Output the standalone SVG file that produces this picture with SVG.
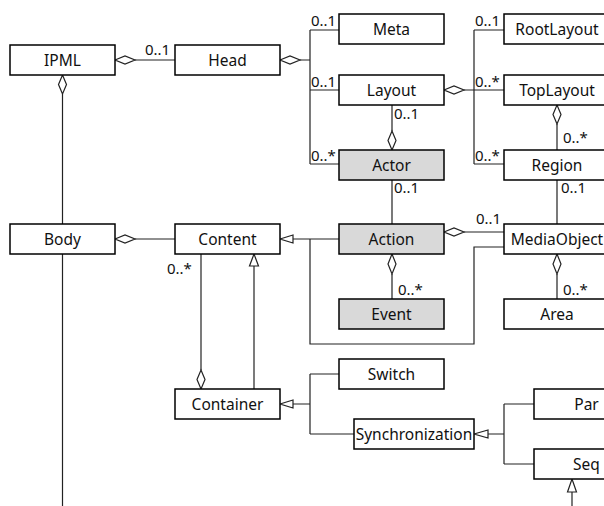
<svg xmlns="http://www.w3.org/2000/svg" width="604" height="506" viewBox="0 0 604 506">
<style>
.box{fill:#fff;stroke:#000;stroke-width:1.5}
.g{fill:#d9d9d9}
.t{font-family:"Noto Sans","DejaVu Sans",sans-serif;font-size:15.5px;text-anchor:middle;fill:#111}
.l{font-family:"Noto Sans","DejaVu Sans",sans-serif;font-size:15px;fill:#111}
.c{fill:none;stroke:#222;stroke-width:1.2}
.d{fill:#fff;stroke:#222;stroke-width:1.2}
</style>
<rect width="604" height="506" fill="#fff"/>
<g id="connectors">
<path class="c" d="M135 60H175"/>
<polygon class="d" points="115,60 125,56 135,60 125,64"/>
<path class="c" d="M300 60H310M310 30V164M310 30H339M310 90H339M310 164H339"/>
<polygon class="d" points="280,60 290,56 300,60 290,64"/>
<path class="c" d="M464 90H474M474 30V164M474 30H504M474 90H504M474 164H504"/>
<polygon class="d" points="444,90 454,86 464,90 454,94"/>
<path class="c" d="M392 105V131"/>
<polygon class="d" points="392,131 396,140.5 392,150 388,140.5"/>
<path class="c" d="M557 124V150"/>
<polygon class="d" points="557,105 561,114.5 557,124 553,114.5"/>
<path class="c" d="M392 180V224M557 180V224"/>
<path class="c" d="M464 232H504"/>
<polygon class="d" points="444,232 454,228 464,232 454,236"/>
<path class="c" d="M339 239H293M504 247H474V344H310V239"/>
<polygon class="d" points="280,239 293,235 293,243"/>
<path class="c" d="M135 239H175"/>
<polygon class="d" points="115,239 125,235 135,239 125,243"/>
<path class="c" d="M62.5 94V224M62.5 254V506"/>
<polygon class="d" points="62.5,75 66.5,84.5 62.5,94 58.5,84.5"/>
<path class="c" d="M392 274V299M557 274V299"/>
<polygon class="d" points="392,254 396,264 392,274 388,264"/>
<polygon class="d" points="557,254 561,264 557,274 553,264"/>
<path class="c" d="M201 254V370"/>
<polygon class="d" points="201,370 205,379.5 201,389 197,379.5"/>
<path class="c" d="M254 389V266"/>
<polygon class="d" points="254,254 258.5,266 249.5,266"/>
<path class="c" d="M293 404H310M310 374V434M310 374H339M310 434H354"/>
<polygon class="d" points="280,404 293,400 293,408"/>
<path class="c" d="M488 434H504M504 404V464M504 404H534M504 464H534"/>
<polygon class="d" points="474,434 488,430 488,438"/>
<path class="c" d="M572 492V506"/>
<polygon class="d" points="572,479 576.5,492 567.5,492"/>
</g>
<g id="labels">
<text class="l" x="145" y="55">0..1</text>
<text class="l" x="311" y="26">0..1</text>
<text class="l" x="311" y="87">0..1</text>
<text class="l" x="311" y="161">0..*</text>
<text class="l" x="475" y="26">0..1</text>
<text class="l" x="475" y="87">0..*</text>
<text class="l" x="475" y="161">0..*</text>
<text class="l" x="394" y="119">0..1</text>
<text class="l" x="563" y="143">0..*</text>
<text class="l" x="394" y="193">0..1</text>
<text class="l" x="561" y="193">0..1</text>
<text class="l" x="476" y="224">0..1</text>
<text class="l" x="398" y="295">0..*</text>
<text class="l" x="563" y="295">0..*</text>
<text class="l" x="167" y="274">0..*</text>
</g>
<g id="IPML"><rect class="box" x="10" y="45" width="105" height="30"/><text class="t" x="62.5" y="66">IPML</text></g>
<g id="Head"><rect class="box" x="175" y="45" width="105" height="30"/><text class="t" x="227.5" y="66">Head</text></g>
<g id="Meta"><rect class="box" x="339" y="14" width="105" height="30"/><text class="t" x="391.5" y="35">Meta</text></g>
<g id="Layout"><rect class="box" x="339" y="75" width="105" height="30"/><text class="t" x="391.5" y="96">Layout</text></g>
<g id="Actor"><rect class="box g" x="339" y="150" width="105" height="30"/><text class="t" x="391.5" y="171">Actor</text></g>
<g id="RootLayout"><rect class="box" x="504" y="14" width="106" height="30"/><text class="t" x="557" y="35">RootLayout</text></g>
<g id="TopLayout"><rect class="box" x="504" y="75" width="106" height="30"/><text class="t" x="557" y="96">TopLayout</text></g>
<g id="Region"><rect class="box" x="504" y="150" width="106" height="30"/><text class="t" x="557" y="171">Region</text></g>
<g id="Body"><rect class="box" x="10" y="224" width="105" height="30"/><text class="t" x="62.5" y="245">Body</text></g>
<g id="Content"><rect class="box" x="175" y="224" width="105" height="30"/><text class="t" x="227.5" y="245">Content</text></g>
<g id="Action"><rect class="box g" x="339" y="224" width="105" height="30"/><text class="t" x="391.5" y="245">Action</text></g>
<g id="MediaObject"><rect class="box" x="504" y="224" width="106" height="30"/><text class="t" x="557" y="245">MediaObject</text></g>
<g id="Event"><rect class="box g" x="339" y="299" width="105" height="30"/><text class="t" x="391.5" y="320">Event</text></g>
<g id="Area"><rect class="box" x="504" y="299" width="106" height="30"/><text class="t" x="557" y="320">Area</text></g>
<g id="Switch"><rect class="box" x="339" y="359" width="105" height="30"/><text class="t" x="391.5" y="380">Switch</text></g>
<g id="Container"><rect class="box" x="175" y="389" width="105" height="30"/><text class="t" x="227.5" y="410">Container</text></g>
<g id="Synchronization"><rect class="box" x="354" y="419" width="120" height="30"/><text class="t" x="414" y="440">Synchronization</text></g>
<g id="Par"><rect class="box" x="534" y="389" width="106" height="30"/><text class="t" x="586.5" y="410">Par</text></g>
<g id="Seq"><rect class="box" x="534" y="449" width="106" height="30"/><text class="t" x="586.5" y="470">Seq</text></g>
</svg>
